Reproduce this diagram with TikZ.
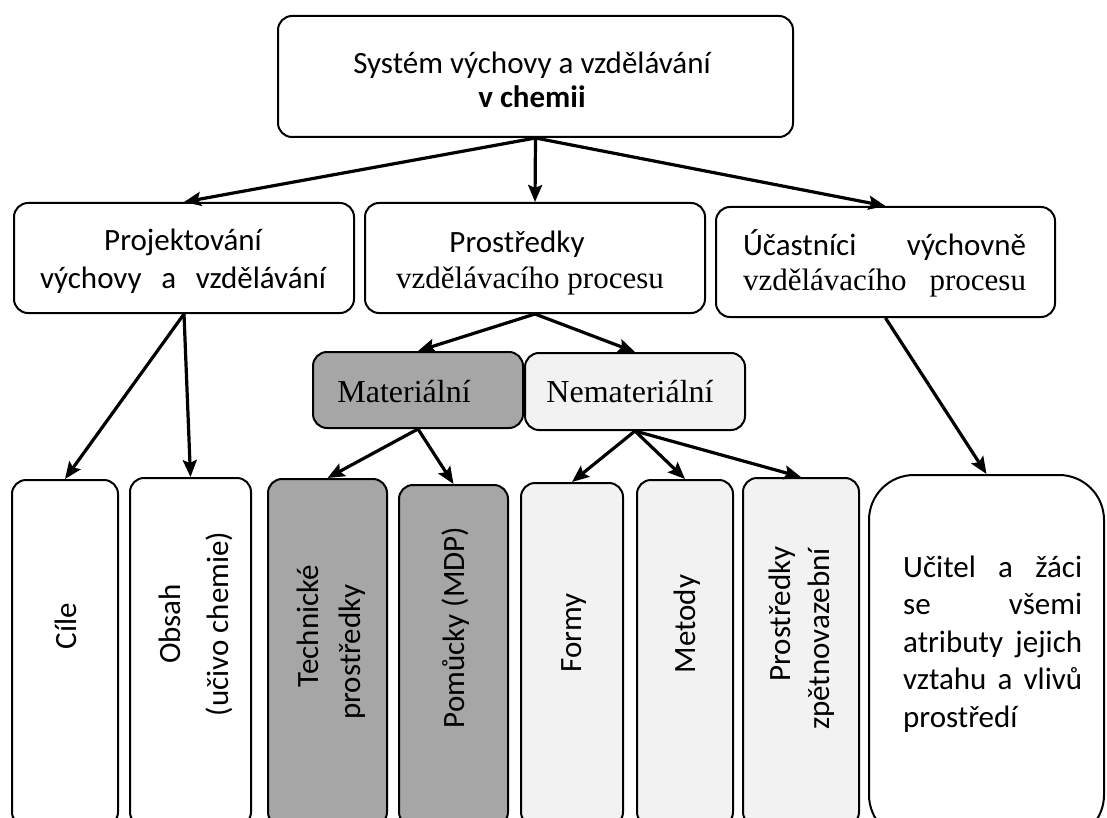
\documentclass[tikz,border=0pt]{standalone}
\usepackage{fontspec}
\setmainfont{Carlito}
\newfontfamily\tms{Liberation Serif}
\usetikzlibrary{arrows.meta}
\definecolor{matgray}{HTML}{A6A6A6}
\definecolor{nematgray}{HTML}{F2F2F2}
\tikzset{
  box/.style={draw, line width=2pt, rounded corners=14pt, inner sep=0pt, fill=white},
  arr/.style={line width=3.2pt, -{Stealth[length=17pt,width=14pt,inset=3pt]}},
  lbl/.style={inner sep=0pt, font=\fontsize{31}{38}\selectfont},
}
\begin{document}
\begin{tikzpicture}[x=1pt,y=-1pt]
\useasboundingbox (0,0) rectangle (1107,818);
% boxes
\node[box, minimum width=515pt, minimum height=121pt] (top) at (535.5,76.5) {};
\node[box, minimum width=340pt, minimum height=110pt] (proj) at (184,258) {};
\node[box, minimum width=340pt, minimum height=110pt] (prost) at (535,258) {};
\node[box, minimum width=339pt, minimum height=110pt] (ucast) at (885.5,262) {};
\node[box, fill=matgray, minimum width=210pt, minimum height=76pt] (mat) at (418,390) {};
\node[box, fill=nematgray, minimum width=220pt, minimum height=77pt] (nemat) at (635,391.5) {};
\node[box, minimum width=106pt, minimum height=346pt] (cile) at (65,653) {};
\node[box, minimum width=121pt, minimum height=348pt] (obsah) at (190.5,652) {};
\node[box, fill=matgray, minimum width=119pt, minimum height=347pt] (tech) at (327.5,652.5) {};
\node[box, fill=matgray, minimum width=109pt, minimum height=341pt] (pom) at (453.5,655.5) {};
\node[box, fill=nematgray, minimum width=102pt, minimum height=343pt] (formy) at (572,654.5) {};
\node[box, fill=nematgray, minimum width=96pt, minimum height=346pt] (metody) at (685,653) {};
\node[box, fill=nematgray, minimum width=116pt, minimum height=348pt] (zpet) at (801,652) {};
\node[box, rounded corners=45pt, minimum width=235pt, minimum height=365pt] (ucitel) at (986.5,657.5) {};
% texts
\node[lbl, align=center, font=\fontsize{31}{34}\selectfont] (ttop) at (532,83.7)
  {\strut Systém výchovy a vzdělávání\\\strut\textbf{v chemii}};
\node[lbl, align=center, font=\fontsize{31}{38}\selectfont] (tproj) at (183,261.4)
  {\strut Projektování\\\strut\makebox[286pt][s]{výchovy\hfill a\hfill vzdělávání}};
\node[lbl, align=center, font=\fontsize{31}{36}\selectfont] (tprost) at (530,262.8)
  {\strut Prostředky\hspace*{26pt}\\\strut{\tms vzdělávacího procesu}};
\node[lbl, align=left, font=\fontsize{31}{35}\selectfont] (tucast) at (884.5,265.5)
  {\strut\makebox[283pt][s]{Účastníci\hfill výchovně}\\\strut\makebox[283pt][s]{\tms vzdělávacího\hfill procesu}};
\node[lbl, anchor=base, font=\fontsize{32}{38}\tms] (tmat) at (404,402) {Materiální};
\node[lbl, anchor=base, font=\fontsize{32}{38}\tms] (tnemat) at (630,402) {Nemateriální};
\node[lbl, rotate=90, anchor=base] (tcile) at (76,626) {Cíle};
\node[lbl, rotate=90, align=center, font=\fontsize{31}{48}\selectfont] (tobsah) at (194.4,624)
  {\strut Obsah\\\strut(učivo chemie)};
\node[lbl, rotate=90, align=center, font=\fontsize{31}{42}\selectfont] (ttech) at (330.6,626)
  {\strut Technické\\\strut prostředky\hspace*{52pt}};
\node[lbl, rotate=90, anchor=base] (tpom) at (464,627.5) {Pomůcky (MDP)};
\node[lbl, rotate=90, anchor=base] (tformy) at (581,633) {Formy};
\node[lbl, rotate=90, anchor=base] (tmetody) at (695,624) {Metody};
\node[lbl, rotate=90, align=center, font=\fontsize{31}{39}\selectfont] (tzpet) at (801.7,614)
  {\strut Prostředky\\\strut zpětnovazební\hspace*{50pt}};
\node[lbl, align=left, anchor=north west, font=\fontsize{31}{37.5}\selectfont] (tucitel) at (903,550.75)
  {\makebox[179pt][s]{\strut Učitel\hfill a\hfill žáci}\\
   \makebox[179pt][s]{\strut se\hfill všemi}\\
   \makebox[179pt][s]{\strut atributy\hfill jejich}\\
   \makebox[179pt][s]{\strut vztahu\hfill a\hfill vlivů}\\
   \strut prostředí};
% arrows
\draw[arr] (top.south) -- (proj.north);
\draw[arr] (top.south) -- (prost.north);
\draw[arr] (top.south) -- (ucast.north);
\draw[arr] (proj.south) -- (cile.north);
\draw[arr] (proj.south) -- (obsah.north);
\draw[arr] (prost.south) -- (mat.north);
\draw[arr] (prost.south) -- (nemat.north);
\draw[arr] (mat.south) -- (tech.north);
\draw[arr] (mat.south) -- (pom.north);
\draw[arr] (nemat.south) -- (formy.north);
\draw[arr] (nemat.south) -- (metody.north);
\draw[arr] (nemat.south) -- (zpet.north);
\draw[arr] (ucast.south) -- (ucitel.north);
\end{tikzpicture}
\end{document}
